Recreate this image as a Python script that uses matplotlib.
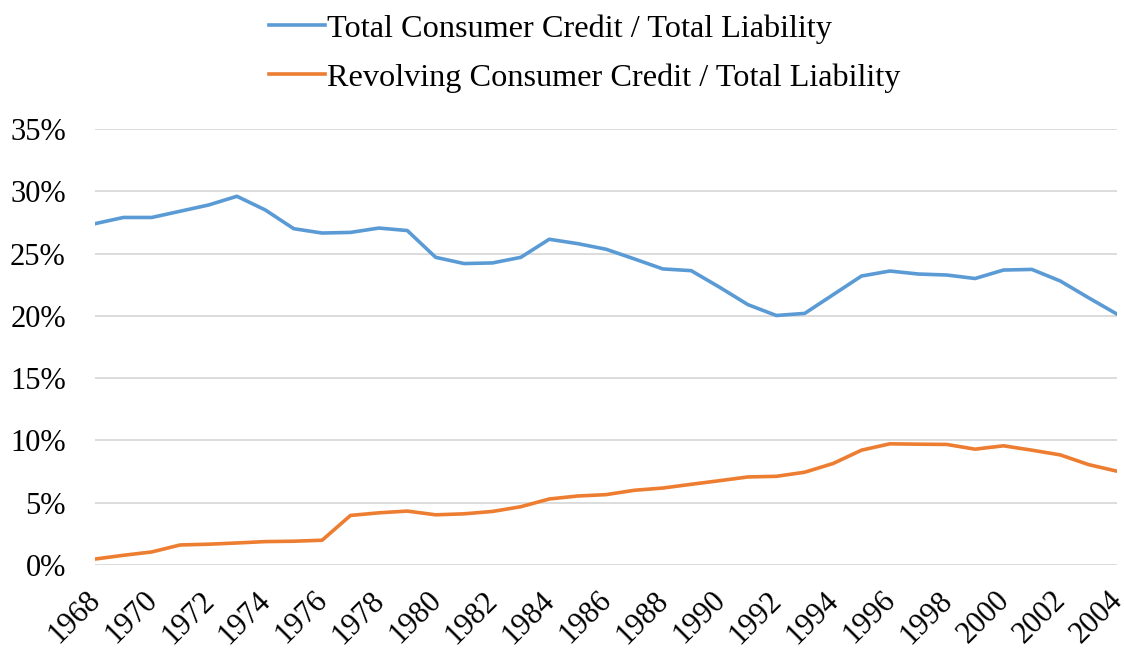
import matplotlib
matplotlib.use("Agg")
import matplotlib.pyplot as plt
from matplotlib.ticker import FuncFormatter, MultipleLocator
from matplotlib.transforms import ScaledTranslation

plt.rcParams['font.family'] = ['Liberation Serif', 'DejaVu Serif']

years = list(range(1968, 2005))

total_credit = [
    27.4, 27.9, 27.9, 28.4, 28.9, 29.6, 28.5, 27.0, 26.65, 26.7,
    27.05, 26.85, 24.7, 24.2, 24.25, 24.7, 26.15, 25.8, 25.35, 24.57,
    23.77, 23.63, 22.3, 20.9, 20.03, 20.2, 21.7, 23.2, 23.6, 23.36,
    23.28, 23.0, 23.68, 23.73, 22.8, 21.45, 20.14,
]

revolving_credit = [
    0.48, 0.78, 1.05, 1.61, 1.67, 1.77, 1.88, 1.91, 1.99, 3.98,
    4.19, 4.33, 4.03, 4.11, 4.3, 4.68, 5.3, 5.54, 5.65, 6.0,
    6.18, 6.48, 6.77, 7.07, 7.12, 7.45, 8.15, 9.22, 9.73, 9.70,
    9.68, 9.3, 9.57, 9.22, 8.84, 8.06, 7.53,
]

series_labels = [
    "Total Consumer Credit / Total Liability",
    "Revolving Consumer Credit / Total Liability",
]

fig = plt.figure(figsize=(11.24, 6.49), dpi=100)
ax = fig.add_axes([0.0845, 0.1294, 0.9093, 0.6718])

ax.plot(years, total_credit, color="#5B9BD5", lw=2.6, label=series_labels[0],
        solid_joinstyle="round")
ax.plot(years, revolving_credit, color="#ED7D31", lw=2.6, label=series_labels[1],
        solid_joinstyle="round")

ax.set_xlim(1968, 2004)
ax.set_ylim(0, 35)
ax.yaxis.set_major_locator(MultipleLocator(5))
ax.yaxis.set_major_formatter(FuncFormatter(lambda v, _: f"{v:.0f}%"))
ax.set_xticks(years[::2])
ax.set_xticklabels([str(y) for y in years[::2]], rotation=45, ha="right",
                   va="top", rotation_mode="anchor")

ax.grid(axis="y", color="#D9D9D9", lw=1.3)
ax.set_axisbelow(True)
for s in ax.spines.values():
    s.set_visible(False)
ax.tick_params(axis="both", length=0, labelsize=22, colors="#000000")
ax.tick_params(axis="y", pad=21)
ax.tick_params(axis="x", pad=15)

# nudge the rotated year labels so their right ends sit just past each tick
shift = ScaledTranslation(-0.09, 0, fig.dpi_scale_trans)
for lbl in ax.get_xticklabels():
    lbl.set_transform(lbl.get_transform() + shift)

fig.legend(loc="upper center", bbox_to_anchor=(0.52, 1.023), ncol=1,
           frameon=False, fontsize=23.2, handlelength=1.75, handletextpad=0.05,
           labelspacing=0.6)

fig.savefig("out.png", dpi=100)
